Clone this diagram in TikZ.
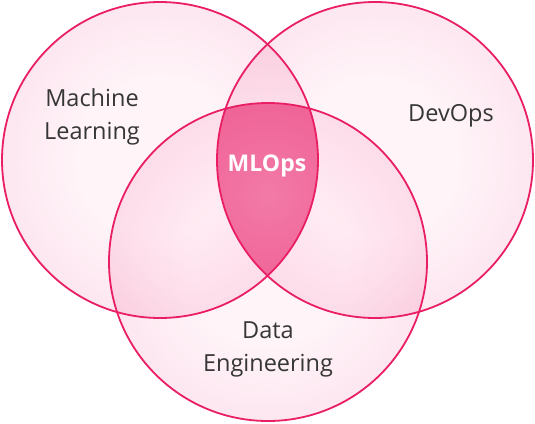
\documentclass[tikz,border=0pt]{standalone}
\usepackage{fontspec}
\setmainfont{Open Sans}
\usepackage{tikz}
\usetikzlibrary{positioning}

\definecolor{glowin}{HTML}{FFF5F9}
\definecolor{glowout}{HTML}{F9CADE}
\definecolor{lensin}{HTML}{F27AA6}
\definecolor{lensout}{HTML}{EE4F8A}
\definecolor{ringred}{HTML}{E91E63}
\definecolor{txtgray}{HTML}{363636}
\pgfdeclareradialshading{vennglow}{\pgfpoint{0bp}{0bp}}{color(0bp)=(glowin); color(12bp)=(glowin); color(50bp)=(glowout); color(100bp)=(glowout)}

\tikzset{
  venn/.style={circle, inner sep=0pt, outer sep=0pt, minimum size=316pt, shading=vennglow},
  ring/.style={draw=ringred, line width=1.8pt},
  lbl/.style={text=txtgray, align=center, font=\fontsize{23.5}{33}\selectfont},
  core/.style={text=white, font=\fontsize{23}{33}\selectfont\bfseries}
}

\begin{document}
\begin{tikzpicture}[x=1pt,y=-1pt]
  \useasboundingbox (0,0) rectangle (535,423);
  % the three sets
  \begin{scope}[blend mode=multiply]
    \node[venn] (ml) at (160,160) {};
    \node[venn] (dev) at (375,160) {};
    \node[venn, minimum size=318pt] (de) at (268,262) {};
  \end{scope}
  % the middle lens
  \begin{scope}
    \clip (ml) circle[radius=158];
    \clip (dev) circle[radius=158];
    \clip (de) circle[radius=159];
    \shade[inner color=lensin, outer color=lensout] (268,195) circle[radius=180];
  \end{scope}
  \draw[ring] (ml) circle[radius=158];
  \draw[ring] (dev) circle[radius=158];
  \draw[ring] (de) circle[radius=159];
  % labels
  \node[lbl] (mltxt) at (92,117) {Machine\\Learning};
  \node[lbl] (devtxt) at (451,116) {DevOps};
  \node[lbl] (detxt) at (268,349) {Data\\Engineering};
  \node[core] (mlopstxt) at (267,166) {MLOps};
\end{tikzpicture}
\end{document}
